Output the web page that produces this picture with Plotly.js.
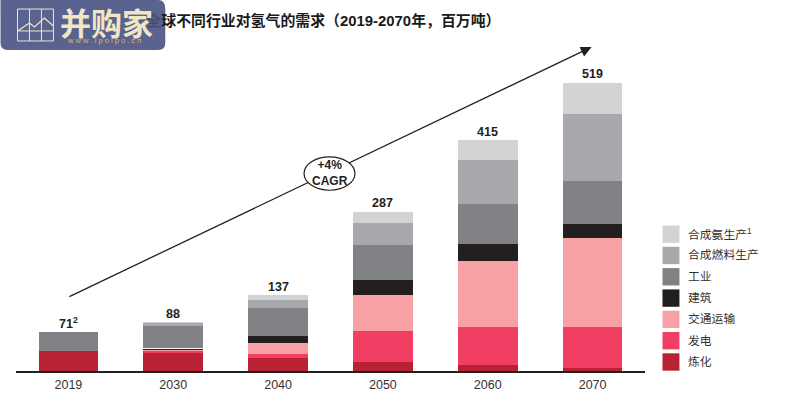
<!DOCTYPE html>
<html><head><meta charset="utf-8">
<script src="https://cdn.plot.ly/plotly-3.0.1.min.js"></script>
<style>html,body{margin:0;padding:0;background:#fff}#c{width:788px;height:406px}</style>
</head><body><div id="c"></div>
<script>
const years = ['2019','2030','2040','2050','2060','2070'];
const totals = [71,88,137,287,415,519];
const totalLabels = ['71<sup>2</sup>','88','137','287','415','519'];
const refining  = [36,33,23.4,16,11,5.4];
const power     = [0,3.5,7.2,55.5,68,73.6];
const transport = [0,2,19.8,64.5,118.5,160];
const building  = [0,1.5,12.6,27,30.5,25];
const spacer    = [0,2,0,0,0,0];
const industry  = [35,39,50.4,64.5,72,77];
const fuel      = [0,5,14.4,39.5,79,122];
const ammonia   = [0,2,9,19.5,36,55.7];
const legendLabels = ['合成氨生产<sup>1</sup>','合成燃料生产','工业','建筑','交通运输','发电','炼化'];
const legendColors = ['#d1d3d4','#a7a9ac','#808285','#231f20','#f8a1a4','#f13f63','#b92234'];

const LATIN='"Liberation Sans", Arial, sans-serif';
const MIX='"Liberation Sans", "Noto Sans CJK SC", sans-serif';
const W=788,H=406,L=15.5,R=645.5,T=20,B=371.5;
const px=x=>(x-L)/(R-L), py=y=>(B-y)/(B-T);
const P=(x,y)=>px(x)+','+py(y);
const series=[[refining,6],[power,5],[transport,4],[building,3],[spacer,-1],[industry,2],[fuel,1],[ammonia,0]];
const data=series.map(([v,i])=>({type:'bar',x:years,y:v,width:0.57,
  name:i<0?'':legendLabels[i],marker:{color:i<0?'#ffffff':legendColors[i],line:{width:0}},hoverinfo:'skip',showlegend:false}));

const shapes=[];
const annotations=[];
function seg(x0,y0,x1,y1,c,w){shapes.push({type:'line',xref:'paper',yref:'paper',x0:px(x0),y0:py(y0),x1:px(x1),y1:py(y1),layer:'above',line:{color:c,width:w}});}
function note(x,y,text,font,xanchor){annotations.push({xref:'paper',yref:'paper',x:px(x),y:py(y),xanchor:xanchor||'center',yanchor:'middle',text,showarrow:false,font});}
// trend arrow + oval
seg(69,297,585,50.4,'#231f20',1.3);
shapes.push({type:'path',xref:'paper',yref:'paper',layer:'above',path:'M'+P(592,47)+'L'+P(584.5,56.5)+'L'+P(580,47)+'Z',fillcolor:'#231f20',line:{width:0}});
shapes.push({type:'circle',xref:'paper',yref:'paper',layer:'above',x0:px(304),x1:px(355),y0:py(190.5),y1:py(157),fillcolor:'#fff',line:{color:'#231f20',width:1.2}});
note(329.5,173,'+4%<br>CAGR',{family:LATIN,size:12,color:'#231f20',weight:700});
// totals (a numeric-looking category is addressed by its index)
years.forEach((y,i)=>annotations.push({xref:'x',yref:'y',x:i,y:totals[i],text:totalLabels[i],showarrow:false,xanchor:'center',yanchor:'bottom',yshift:-1,font:{family:LATIN,size:12.5,color:'#231f20',weight:700}}));
// legend
legendLabels.forEach((t,i)=>{
  const cy=234.5+21.33*i;
  shapes.push({type:'rect',xref:'paper',yref:'paper',layer:'above',x0:px(663),x1:px(680),y0:py(cy+8.7),y1:py(cy-8.7),fillcolor:legendColors[i],line:{width:0}});
  note(686.5,cy,t,{family:MIX,size:11.8,color:'#333333'},'left');
});
// logo
const LG='#5a628f',CR='#efe6c4';
shapes.push({type:'path',xref:'paper',yref:'paper',layer:'above',line:{width:0},fillcolor:LG,
  path:'M'+P(0,0)+'L'+P(158,0)+'Q'+P(165,0)+' '+P(165,9)+'L'+P(165,43)+'Q'+P(165,50)+' '+P(158,50)+'L'+P(7,50)+'Q'+P(0,50)+' '+P(0,43)+'Z'});
[[17,9,53,9],[17,41,53,41],[17,9,17,41],[53,9,53,41],[29,9,29,41],[41,9,41,41],[17,31,53,31]].forEach(a=>seg(a[0],a[1],a[2],a[3],CR,1));
shapes.push({type:'path',xref:'paper',yref:'paper',layer:'above',fillcolor:'rgba(0,0,0,0)',line:{color:CR,width:1.3},
  path:'M'+P(17,31)+'L'+P(29,23)+'L'+P(34,27)+'L'+P(44,18)+'L'+P(53,26)});
note(106,21.5,'并购家',{family:'"Noto Sans CJK SC", sans-serif',size:31,color:CR,weight:700});
note(104,41,'w w w . i p o i p o . c n',{family:LATIN,size:7.5,color:'#dcb86f'});

const layout={
  width:W,height:H,paper_bgcolor:'#fff',plot_bgcolor:'#fff',barmode:'stack',showlegend:false,
  margin:{l:L,r:W-R,t:T,b:H-B,pad:0},
  title:{text:'<span style="color:#474c6e">全</span>球不同行业对氢气的需求（2019-2070年，百万吨）',xref:'container',yref:'container',x:500.5/W,xanchor:'right',y:1-21/H,yanchor:'middle',
    font:{family:MIX,size:14.9,color:'#1a1a1a',weight:700}},
  xaxis:{type:'category',range:[-0.5,5.5],showline:true,linecolor:'#231f20',linewidth:1.5,ticks:'',ticklabelstandoff:1,tickfont:{family:LATIN,size:12.5,color:'#333333'},showgrid:false,zeroline:false,fixedrange:true},
  yaxis:{range:[0,631.4],visible:false,showgrid:false,zeroline:false,fixedrange:true},
  shapes,annotations
};
Plotly.newPlot('c',data,layout,{displayModeBar:false,staticPlot:true,responsive:false});
</script></body></html>
